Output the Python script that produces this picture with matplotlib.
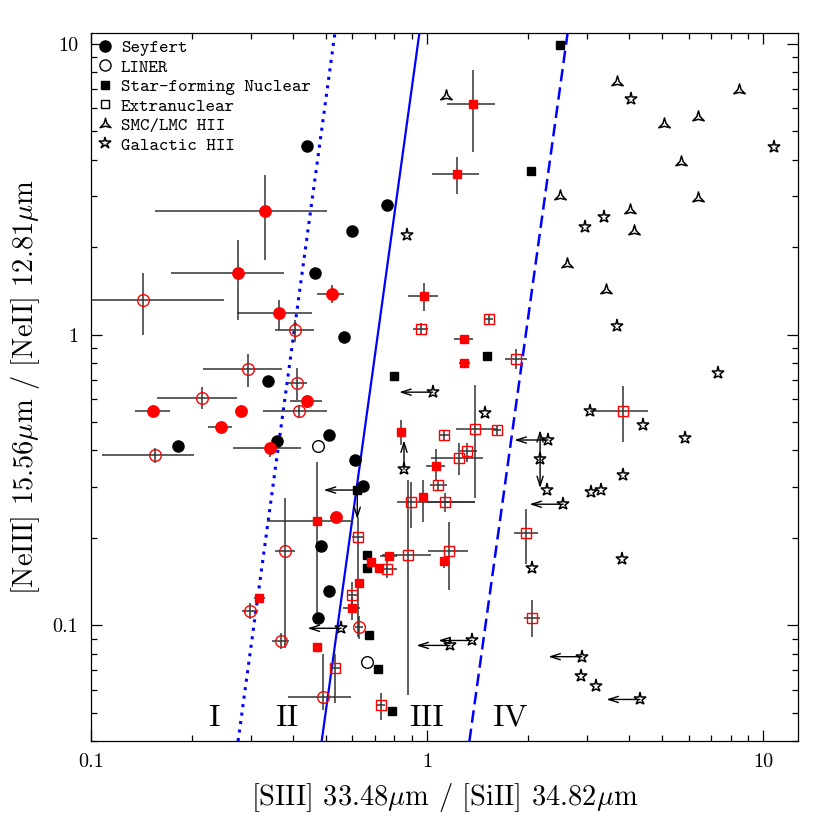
import numpy as np
import matplotlib
matplotlib.use('Agg')
import matplotlib.pyplot as plt
from matplotlib.lines import Line2D
from matplotlib.path import Path

plt.rcParams['mathtext.fontset'] = 'cm'
plt.rcParams['axes.unicode_minus'] = False

nan = np.nan

# Seyfert, black (no errors)
sey_x = [0.44, 0.76, 0.598, 0.464, 0.566, 0.336, 0.51, 0.358, 0.182, 0.611, 0.646, 0.484, 0.51, 0.474]
sey_y = [4.46, 2.79, 2.27, 1.63, 0.98, 0.692, 0.451, 0.43, 0.413, 0.37, 0.301, 0.187, 0.131, 0.106]

# Seyfert, red (with errors)
sey_r_x = [0.33, 0.274, 0.521, 0.363, 0.44, 0.153, 0.279, 0.244, 0.341, 0.536]
sey_r_y = [2.66, 1.63, 1.38, 1.19, 0.59, 0.546, 0.546, 0.481, 0.406, 0.236]
sey_r_xlo = [0.155, 0.173, 0.471, 0.272, 0.391, 0.135, nan, 0.223, 0.265, nan]
sey_r_xhi = [0.503, 0.375, 0.566, 0.455, 0.487, 0.172, nan, 0.263, 0.422, nan]
sey_r_ylo = [1.80, 1.12, 1.28, 1.04, 0.558, nan, nan, nan, 0.378, nan]
sey_r_yhi = [3.54, 2.11, 1.48, 1.32, 0.62, nan, nan, nan, 0.424, nan]

# LINER
lin_x = [0.474, 0.662]
lin_y = [0.413, 0.0746]
lin_r_x = [0.143, 0.404, 0.293, 0.41, 0.214, 0.416, 0.155, 0.377, 0.367, 0.297, 0.628, 0.49]
lin_r_y = [1.32, 1.04, 0.76, 0.681, 0.604, 0.546, 0.385, 0.18, 0.0881, 0.112, 0.0984, 0.0565]
lin_r_xlo = [0.099, 0.353, 0.215, 0.383, 0.157, 0.325, 0.108, 0.353, 0.346, 0.281, 0.61, 0.386]
lin_r_xhi = [0.249, 0.461, 0.37, 0.44, 0.272, 0.503, 0.203, 0.404, 0.388, 0.314, 0.645, 0.594]
lin_r_ylo = [1.0, 0.94, 0.659, 0.595, 0.554, 0.52, 0.361, 0.0834, 0.083, 0.105, 0.090, 0.051]
lin_r_yhi = [1.63, 1.12, 0.857, 0.767, 0.659, 0.572, 0.406, 0.274, 0.094, 0.119, 0.108, 0.080]

# Star-forming nuclear
sf_x = [2.49, 2.04, 1.51, 0.798, 0.62, 0.662, 0.662, 0.671, 0.714, 0.787]
sf_y = [9.9, 3.66, 0.843, 0.72, 0.292, 0.175, 0.158, 0.0925, 0.0707, 0.0506]
sf_lim = ['', '', '', '', 'LD', '', '', '', '', '']
sf_r_x = [1.37, 1.23, 0.98, 1.29, 1.29, 0.838, 1.06, 0.973, 0.471, 0.681, 0.72, 0.771, 0.628,
          0.598, 1.124, 0.316, 0.471]
sf_r_y = [6.22, 3.57, 1.36, 0.965, 0.797, 0.461, 0.353, 0.276, 0.228, 0.165, 0.158, 0.173, 0.14,
          0.115, 0.166, 0.124, 0.084]
sf_r_xlo = [1.147, 1.035, 0.878, 1.20, 1.245, nan, 0.993, nan, 0.334, nan, nan, 0.725, nan,
            0.562, nan, 0.305, nan]
sf_r_xhi = [1.59, 1.43, 1.078, 1.37, 1.34, nan, 1.13, nan, 0.602, nan, nan, 0.814, nan,
            0.633, nan, 0.33, nan]
sf_r_ylo = [4.25, 3.05, 1.205, nan, nan, 0.417, 0.315, 0.226, 0.106, nan, nan, nan, nan,
            0.104, 0.158, 0.12, nan]
sf_r_yhi = [8.14, 4.08, 1.50, nan, nan, 0.508, 0.404, 0.315, 0.364, nan, nan, nan, nan,
            0.125, 0.172, 0.128, nan]

# Extranuclear (red, with errors)
ex_x = [0.96, 1.53, 1.84, 1.124, 1.39, 1.61, 1.315, 1.245, 1.078, 0.896, 1.13, 0.623, 0.76,
        0.878, 1.163, 0.598, 0.532, 0.73, 1.97, 2.05, 3.83]
ex_y = [1.045, 1.13, 0.824, 0.451, 0.473, 0.469, 0.397, 0.376, 0.303, 0.265, 0.265, 0.201, 0.156,
        0.175, 0.18, 0.127, 0.0711, 0.053, 0.207, 0.106, 0.546]
ex_xlo = [0.908, 1.49, 1.71, 1.09, 1.22, 1.56, 1.25, 1.03, 1.02, 0.814, 1.0, 0.60, 0.725,
          0.735, 1.007, 0.58, 0.515, 0.71, 1.82, 1.94, 3.05]
ex_xhi = [1.007, 1.57, 1.99, 1.16, 1.61, 1.66, 1.41, 1.47, 1.147, 1.39, 1.39, 0.65, 0.814,
          1.03, 1.32, 0.62, 0.55, 0.75, 2.14, 2.17, 4.55]
ex_ylo = [1.0, 1.09, 0.76, 0.43, 0.274, 0.45, 0.364, 0.328, 0.29, 0.217, 0.245, 0.091, 0.145,
          0.0574, 0.132, 0.11, 0.054, 0.0471, 0.163, 0.091, 0.427]
ex_yhi = [1.1, 1.18, 0.891, 0.47, 0.67, 0.49, 0.424, 0.424, 0.315, 0.31, 0.285, 0.236, 0.168,
          0.315, 0.226, 0.141, 0.080, 0.0587, 0.251, 0.122, 0.665]

# SMC/LMC HII
mc_x = [1.14, 3.67, 8.48, 6.41, 5.07, 5.7, 2.49, 6.41, 4.02, 4.13, 2.61, 3.41]
mc_y = [6.62, 7.4, 6.95, 5.61, 5.3, 3.93, 3.0, 2.95, 2.68, 2.27, 1.75, 1.42]

# Galactic HII
gal_x = [4.05, 10.8, 3.37, 2.95, 0.872, 3.67, 7.35, 3.05, 4.39, 5.86, 2.29, 2.17, 2.28, 2.54,
         3.08, 3.3, 3.83, 2.05, 3.8, 2.89, 2.87, 3.18, 4.3, 1.04, 1.49, 0.854, 1.17, 1.36, 0.555]
gal_y = [6.47, 4.42, 2.54, 2.34, 2.2, 1.07, 0.737, 0.546, 0.488, 0.44, 0.434, 0.373, 0.292, 0.261,
         0.287, 0.292, 0.328, 0.158, 0.169, 0.078, 0.0667, 0.0617, 0.0556, 0.634, 0.537, 0.344,
         0.0853, 0.0887, 0.0977]
gal_lim = ['', '', '', '', '', '', '', '', '', '', 'L', 'UD', '', 'L', '', '', '', '', '', 'L',
           '', '', 'L', 'L', '', 'U', 'L', 'L', 'L']

# region boundaries (x at bottom and top of the y range)
bound_y = [0.04, 10.9]
bound_x0 = [0.274, 0.486, 1.337]
bound_x1 = [0.532, 0.949, 2.62]
bound_ls = [(0, (1, 1.8)), '-', (0, (5, 2.4))]
bound_lw = [2.2, 1.6, 1.8]

region_lab = ['I', 'II', 'III', 'IV']
region_x = [0.232, 0.383, 1.0, 1.766]
region_y = 0.048

legend_labels = ['Seyfert', 'LINER', 'Star-forming Nuclear', 'Extranuclear',
                 'SMC/LMC HII', 'Galactic HII']

# three pointed open star for the Magellanic Cloud HII regions
ang_out = np.deg2rad([90, 210, 330])
ang_in = np.deg2rad([150, 270, 30])
tri_verts = []
for ao, ai in zip(ang_out, ang_in):
    tri_verts.append((np.cos(ao), np.sin(ao)))
    tri_verts.append((0.28 * np.cos(ai), 0.28 * np.sin(ai)))
tri_verts.append(tri_verts[0])
tri_marker = Path(tri_verts, closed=True)

fig = plt.figure(figsize=(8.3, 8.3), dpi=100)
ax = fig.add_axes([0.1096, 0.1072, 0.8518, 0.853])
ax.set_xscale('log')
ax.set_yscale('log')
ax.set_xlim(0.1, 12.7)
ax.set_ylim(0.04, 10.9)

ecol = '#333333'


def errbars(x, y, xlo, xhi, ylo, yhi):
    x = np.array(x, float)
    y = np.array(y, float)
    xe = np.nan_to_num(np.array([x - np.array(xlo, float), np.array(xhi, float) - x]))
    ye = np.nan_to_num(np.array([y - np.array(ylo, float), np.array(yhi, float) - y]))
    ax.errorbar(x, y, xerr=xe, yerr=ye, fmt='none', ecolor=ecol, elinewidth=1.1,
                capsize=0, zorder=2)


def arrows(xs, ys, flags):
    f = 10 ** 0.1
    for x, y, fl in zip(xs, ys, flags):
        for c in fl:
            if c == 'L':
                tip = (x / f, y)
            elif c == 'U':
                tip = (x, y * f)
            else:
                tip = (x, y / f)
            ax.annotate('', xy=tip, xytext=(x, y),
                        arrowprops=dict(arrowstyle='->,head_length=0.7,head_width=0.22',
                                        color='k', lw=1.0, shrinkA=0, shrinkB=0),
                        zorder=2)


# boundary lines
for x0, x1, ls, lw in zip(bound_x0, bound_x1, bound_ls, bound_lw):
    ax.plot([x0, x1], bound_y, color='#0000ff', ls=ls, lw=lw, zorder=1)

for lab, x in zip(region_lab, region_x):
    ax.text(x, region_y, lab, ha='center', va='center', fontsize=23, family='cmr10')

errbars(sey_r_x, sey_r_y, sey_r_xlo, sey_r_xhi, sey_r_ylo, sey_r_yhi)
errbars(lin_r_x, lin_r_y, lin_r_xlo, lin_r_xhi, lin_r_ylo, lin_r_yhi)
errbars(sf_r_x, sf_r_y, sf_r_xlo, sf_r_xhi, sf_r_ylo, sf_r_yhi)
errbars(ex_x, ex_y, ex_xlo, ex_xhi, ex_ylo, ex_yhi)
arrows(sf_x, sf_y, sf_lim)
arrows(gal_x, gal_y, gal_lim)

ax.plot(sey_x, sey_y, 'o', ls='none', mfc='k', mec='k', ms=8, zorder=3)
ax.plot(sey_r_x, sey_r_y, 'o', ls='none', mfc='red', mec='red', ms=8.2, zorder=3)
ax.plot(lin_x, lin_y, 'o', ls='none', mfc='none', mec='k', mew=1.0, ms=8.4, zorder=3)
ax.plot(lin_r_x, lin_r_y, 'o', ls='none', mfc='none', mec='red', mew=1.0, ms=8.4, zorder=3)
ax.plot(sf_x, sf_y, 's', ls='none', mfc='k', mec='k', ms=6.2, zorder=3)
ax.plot(sf_r_x, sf_r_y, 's', ls='none', mfc='red', mec='red', ms=6.2, zorder=3)
ax.plot(ex_x, ex_y, 's', ls='none', mfc='none', mec='red', mew=1.0, ms=6.6, zorder=3)
ax.plot(mc_x, mc_y, marker=tri_marker, ls='none', mfc='none', mec='k', mew=1.1, ms=9.5,
        zorder=3)
ax.plot(gal_x, gal_y, '*', ls='none', mfc='none', mec='k', mew=1.1, ms=9.5, zorder=3)

handles = [
    Line2D([], [], ls='none', marker='o', mfc='k', mec='k', ms=8),
    Line2D([], [], ls='none', marker='o', mfc='none', mec='k', mew=1.0, ms=8),
    Line2D([], [], ls='none', marker='s', mfc='k', mec='k', ms=6),
    Line2D([], [], ls='none', marker='s', mfc='none', mec='k', mew=1.0, ms=6),
    Line2D([], [], ls='none', marker=tri_marker, mfc='none', mec='k', mew=1.1, ms=9),
    Line2D([], [], ls='none', marker='*', mfc='none', mec='k', mew=1.1, ms=9),
]
ax.legend(handles, legend_labels, loc='upper left', frameon=False,
          prop={'family': 'cmtt10', 'size': 13}, handlelength=0.8, handletextpad=0.5,
          labelspacing=0.16, borderaxespad=0.2, borderpad=0.15)

ax.set_xticks([0.1, 1, 10], ['0.1', '1', '10'])
ax.set_yticks([0.1, 1, 10], ['0.1', '1', '10'])
ax.xaxis.set_minor_formatter(plt.NullFormatter())
ax.yaxis.set_minor_formatter(plt.NullFormatter())
for lab in ax.get_xticklabels() + ax.get_yticklabels():
    lab.set_family('cmr10')
    lab.set_fontsize(14.5)
ax.tick_params(which='both', direction='in', top=True, right=True, width=0.9)
ax.tick_params(which='major', length=8, pad=9)
ax.tick_params(which='minor', length=4)
for s in ax.spines.values():
    s.set_linewidth(0.9)

ax.set_xlabel(r'[SIII] 33.48$\mu$m / [SiII] 34.82$\mu$m', family='cmr10', fontsize=20.5,
              labelpad=7)
ax.set_ylabel(r'[NeIII] 15.56$\mu$m / [NeII] 12.81$\mu$m', family='cmr10', fontsize=20.5,
              labelpad=8)

fig.savefig('out.png', dpi=100)
